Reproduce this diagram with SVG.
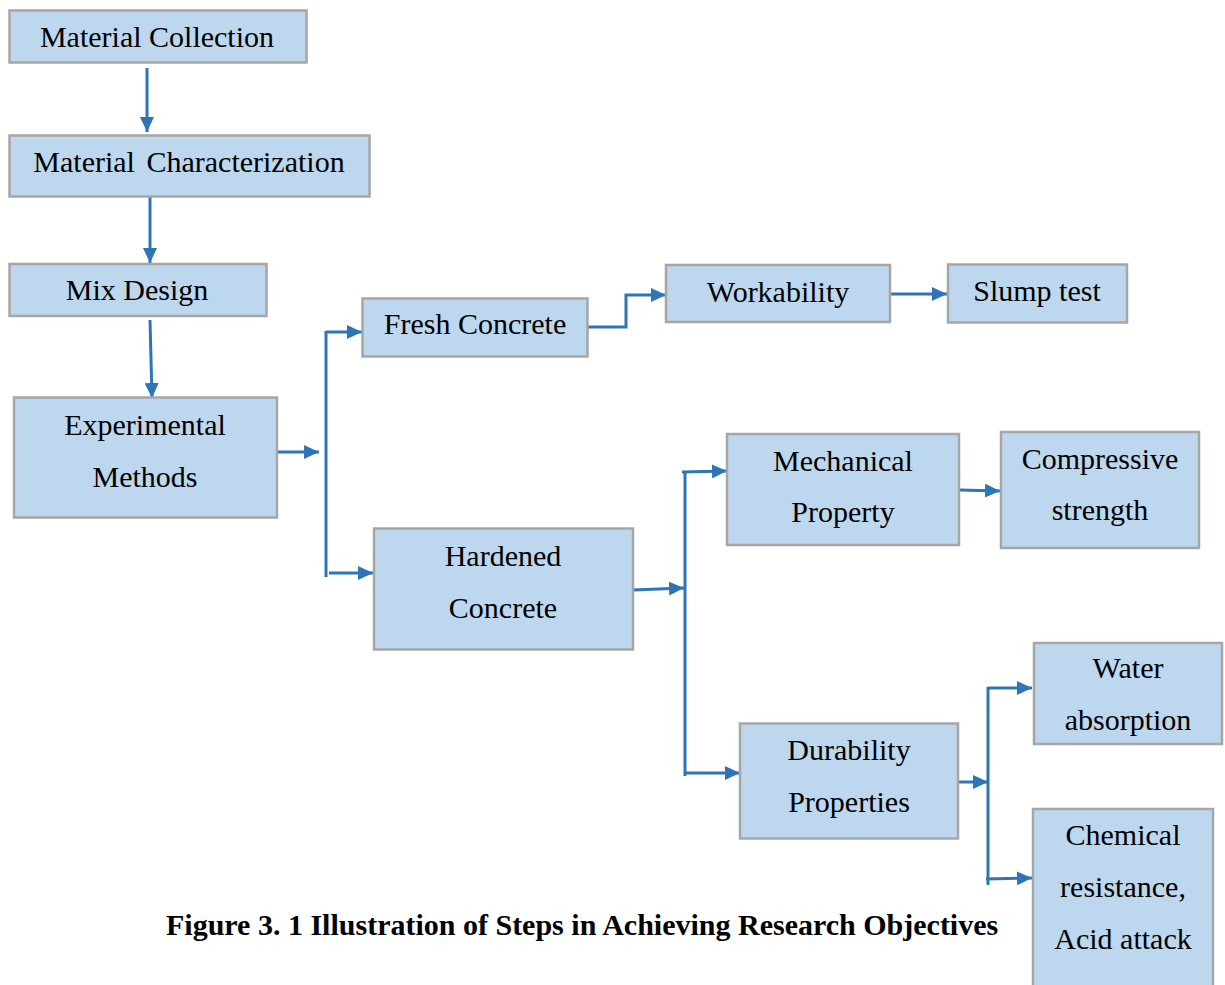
<svg xmlns="http://www.w3.org/2000/svg" width="1225" height="985" viewBox="0 0 1225 985">
<style>
.box{fill:#BDD7EE;stroke:#A6A6A6;stroke-width:2.5}
.t{font-family:"Liberation Serif","Times New Roman",serif;font-size:30px;fill:#000;text-anchor:middle}
.cap{font-family:"Liberation Serif","Times New Roman",serif;font-size:30px;font-weight:bold;fill:#000}
.c{fill:none;stroke:#2E75B6;stroke-width:3}
</style>
<defs>
<marker id="ah" markerUnits="userSpaceOnUse" markerWidth="15" markerHeight="14" refX="15" refY="7" orient="auto">
<path d="M0,0 L15,7 L0,14 Z" fill="#2E75B6"/>
</marker>
</defs>
<rect width="1225" height="985" fill="#fff"/>
<g id="connectors">
<path class="c" d="M147,68 V132" marker-end="url(#ah)"/>
<path class="c" d="M150,189 V263" marker-end="url(#ah)"/>
<path class="c" d="M150,320 L152,398" marker-end="url(#ah)"/>
<path class="c" d="M277,452 H319" marker-end="url(#ah)"/>
<path class="c" d="M326,331 V577"/>
<path class="c" d="M326,332 H362" marker-end="url(#ah)"/>
<path class="c" d="M329,573 H373" marker-end="url(#ah)"/>
<path class="c" d="M587,327 H626 V295 H666" marker-end="url(#ah)"/>
<path class="c" d="M890,294 H947" marker-end="url(#ah)"/>
<path class="c" d="M633,590 L684,588" marker-end="url(#ah)"/>
<path class="c" d="M685,473 V776"/>
<path class="c" d="M682,472 L727,471" marker-end="url(#ah)"/>
<path class="c" d="M685,773 H740" marker-end="url(#ah)"/>
<path class="c" d="M959,490 L1000,491" marker-end="url(#ah)"/>
<path class="c" d="M958,782 H988" marker-end="url(#ah)"/>
<path class="c" d="M988,687 V885"/>
<path class="c" d="M988,688 H1032" marker-end="url(#ah)"/>
<path class="c" d="M986,879 L1032,878" marker-end="url(#ah)"/>
</g>
<g id="material-collection"><rect class="box" x="9.5" y="10.5" width="297" height="52"/><text class="t" x="157" y="47">Material Collection</text></g>
<g id="material-characterization"><rect class="box" x="9.5" y="135.5" width="360" height="61"/><text class="t" x="189" y="172" word-spacing="4">Material Characterization</text></g>
<g id="mix-design"><rect class="box" x="9.5" y="264" width="257" height="52"/><text class="t" x="137" y="300">Mix Design</text></g>
<g id="experimental-methods"><rect class="box" x="14" y="397.5" width="263" height="120"/><text class="t" x="145" y="435">Experimental</text><text class="t" x="145" y="487">Methods</text></g>
<g id="fresh-concrete"><rect class="box" x="362.5" y="298.5" width="225" height="58"/><text class="t" x="475" y="334">Fresh Concrete</text></g>
<g id="hardened-concrete"><rect class="box" x="374" y="528.5" width="259" height="121"/><text class="t" x="503" y="566">Hardened</text><text class="t" x="503" y="618">Concrete</text></g>
<g id="workability"><rect class="box" x="666" y="265" width="224" height="57"/><text class="t" x="778" y="302">Workability</text></g>
<g id="slump-test"><rect class="box" x="948" y="264.5" width="179" height="58"/><text class="t" x="1037" y="301">Slump test</text></g>
<g id="mechanical-property"><rect class="box" x="727" y="434" width="232" height="111"/><text class="t" x="843" y="471">Mechanical</text><text class="t" x="843" y="522">Property</text></g>
<g id="compressive-strength"><rect class="box" x="1001" y="432" width="198" height="116"/><text class="t" x="1100" y="469">Compressive</text><text class="t" x="1100" y="520">strength</text></g>
<g id="durability-properties"><rect class="box" x="740" y="723.5" width="218" height="115"/><text class="t" x="849" y="760">Durability</text><text class="t" x="849" y="812">Properties</text></g>
<g id="water-absorption"><rect class="box" x="1034" y="643" width="188" height="101"/><text class="t" x="1128" y="678">Water</text><text class="t" x="1128" y="730">absorption</text></g>
<g id="chemical-resistance"><rect class="box" x="1033" y="809" width="180" height="190"/><text class="t" x="1123" y="845">Chemical</text><text class="t" x="1123" y="897">resistance,</text><text class="t" x="1123" y="949">Acid attack</text></g>
<text class="cap" x="166" y="935">Figure 3. 1 Illustration of Steps in Achieving Research Objectives</text>
</svg>
